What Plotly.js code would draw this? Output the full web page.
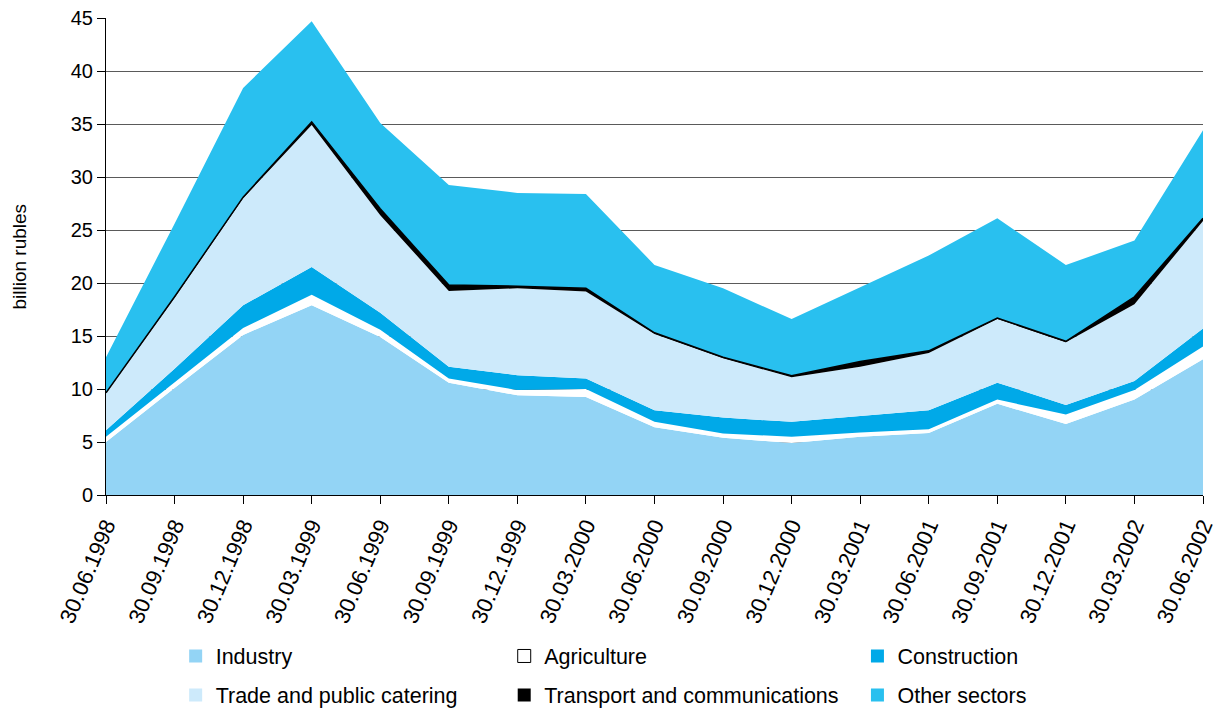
<!DOCTYPE html>
<html>
<head>
<meta charset="utf-8">
<script src="https://cdn.plot.ly/plotly-3.0.1.min.js"></script>
<style>html,body{margin:0;padding:0;background:#fff;}#chart{width:1225px;height:708px;}</style>
</head>
<body>
<div id="chart"></div>
<script>
const dates = ['30.06.1998','30.09.1998','30.12.1998','30.03.1999','30.06.1999','30.09.1999','30.12.1999','30.03.2000','30.06.2000','30.09.2000','30.12.2000','30.03.2001','30.06.2001','30.09.2001','30.12.2001','30.03.2002','30.06.2002'];
const industry     = [5.0, 10.1, 15.1, 17.9, 14.9, 10.6, 9.4, 9.25, 6.4, 5.4, 4.9, 5.5, 5.85, 8.6, 6.7, 9.0, 12.8];
const agriculture  = [0.5, 0.5, 0.65, 1.0, 0.7, 0.4, 0.5, 0.75, 0.5, 0.4, 0.6, 0.4, 0.35, 0.4, 0.9, 0.9, 1.2];
const construction = [0.6, 1.3, 2.15, 2.6, 1.6, 1.1, 1.4, 1.0, 1.1, 1.5, 1.4, 1.55, 1.8, 1.6, 0.9, 0.85, 1.7];
const trade        = [3.5, 6.7, 10.1, 13.4, 9.2, 7.15, 8.2, 8.2, 7.2, 5.6, 4.2, 4.65, 5.4, 6.0, 5.9, 7.25, 10.15];
const transport    = [0.05, 0.1, 0.1, 0.3, 0.6, 0.55, 0.2, 0.3, 0.1, 0.1, 0.15, 0.5, 0.2, 0.1, 0.1, 0.7, 0.25];
const other        = [3.35, 6.9, 10.3, 9.5, 8.1, 9.45, 8.8, 8.9, 6.4, 6.5, 5.35, 7.0, 9.0, 9.4, 7.2, 5.3, 8.3];
const seriesNames  = ['Industry','Agriculture','Construction','Trade and public catering','Transport and communications','Other sectors'];
const yTicks       = [0,5,10,15,20,25,30,35,40,45];
const yTitle       = 'billion rubles';

const colors = ['#93d4f5','#ffffff','#00a9e8','#cdeafb','#000000','#29c0ef'];
const values = [industry, agriculture, construction, trade, transport, other];
const legendOf = ['legend','legend2','legend3','legend','legend2','legend3'];

const traces = [];
values.forEach((v,i)=>{
  traces.push({
    type:'scatter', mode:'lines', x:dates, y:v, stackgroup:'one',
    name:seriesNames[i], fillcolor:colors[i],
    line:{width: i===4 ? 1.5 : 0, color: colors[i], shape:'linear'},
    showlegend:false, hoverinfo:'skip'
  });
});
values.forEach((v,i)=>{
  traces.push({
    type:'scatter', mode:'markers', x:[null], y:[null], name:seriesNames[i],
    legend:legendOf[i], legendgroup:'g'+i,
    marker:{symbol:'square', size:13, color:colors[i], line:{width: i===1?1:0, color:'#000'}}
  });
});

const font = {family:'Liberation Sans, Arial, sans-serif', color:'#000'};
const legBase = {orientation:'v', yref:'container', xref:'container', yanchor:'top', y:0.1024, tracegroupgap:8, bgcolor:'rgba(0,0,0,0)',
  font:{family:font.family, size:21.5, color:'#000'}, itemclick:false};

const layout = {
  width:1225, height:708,
  margin:{l:106, r:22, t:18, b:213, autoexpand:false},
  paper_bgcolor:'#fff', plot_bgcolor:'#fff',
  font:font,
  xaxis:{type:'category', range:[0,16], showgrid:false, tickangle:-67, automargin:false,
    ticks:'outside', ticklen:8, tickcolor:'#000', showline:true, linecolor:'#000', linewidth:1,
    tickfont:{family:font.family, size:22, color:'#000'}, fixedrange:true},
  yaxis:{range:[0,45], tickvals:yTicks, ticks:'outside', ticklen:8, tickcolor:'#000', automargin:false,
    showline:true, linecolor:'#000', linewidth:1, showgrid:true, gridcolor:'#5a5a5a', gridwidth:1,
    zeroline:false, tickfont:{family:font.family, size:20, color:'#000'}, fixedrange:true},
  annotations:[{text:yTitle, xref:'paper', yref:'paper', x:-0.0784, y:0.5, xanchor:'center', yanchor:'middle',
    textangle:-90, showarrow:false, font:{family:font.family, size:19, color:'#000'}}],
  legend: Object.assign({}, legBase, {x:(106+0.0635*1097)/1225, xanchor:'left'}),
  legend2: Object.assign({}, legBase, {x:(106+0.363*1097)/1225, xanchor:'left'}),
  legend3: Object.assign({}, legBase, {x:(106+0.685*1097)/1225, xanchor:'left'}),
  showlegend:true
};

Plotly.newPlot('chart', traces, layout, {displayModeBar:false, staticPlot:true});
</script>
</body>
</html>
